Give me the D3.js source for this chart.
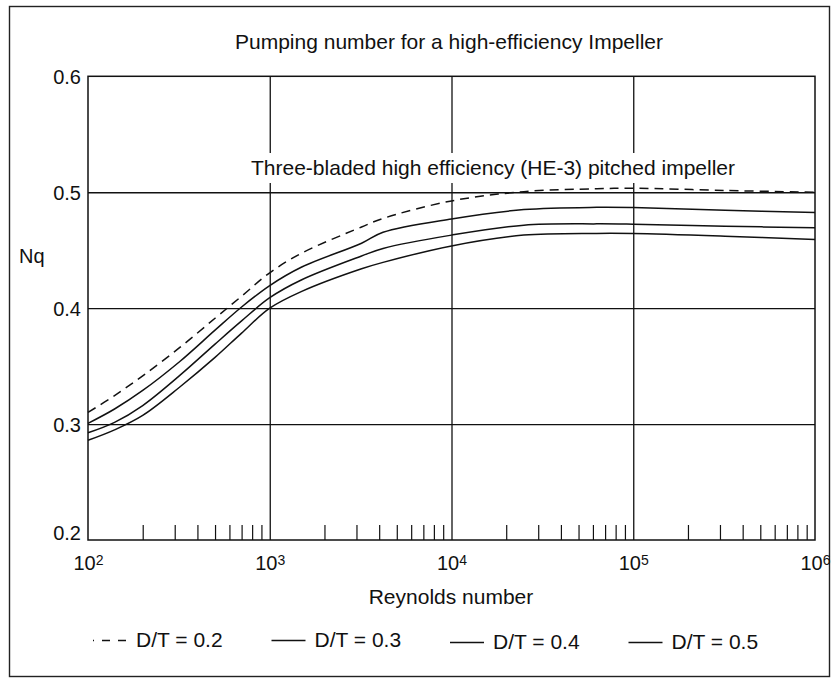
<!DOCTYPE html>
<html><head><meta charset="utf-8">
<script src="https://cdn.jsdelivr.net/npm/d3@7"></script>
<style>
body{margin:0;background:#fff}
svg{display:block}
text{font-family:"Liberation Sans",Arial,Helvetica,sans-serif;fill:#111}
</style>
</head><body>
<svg id="chart" width="838" height="678"></svg>
<script>
// ---------- data ----------
const reynolds = [100, 140, 200, 320, 500, 700, 1000, 1500, 3200, 4200, 10000, 25000, 63000, 100000, 320000, 1000000];
const nqDT02 = [0.310, 0.3246, 0.3416, 0.3661, 0.3913, 0.4103, 0.4305, 0.4475, 0.470, 0.4774, 0.4925, 0.5005, 0.503, 0.5035, 0.5015, 0.500];
const nqDT03 = [0.3006, 0.313, 0.329, 0.354, 0.381, 0.401, 0.4195, 0.4355, 0.456, 0.4655, 0.477, 0.485, 0.487, 0.4868, 0.4845, 0.4825];
const nqDT04 = [0.2925, 0.3015, 0.316, 0.342, 0.369, 0.389, 0.409, 0.4245, 0.445, 0.4515, 0.463, 0.4716, 0.4727, 0.4724, 0.4707, 0.4693];
const nqDT05 = [0.286, 0.295, 0.3075, 0.332, 0.3575, 0.3785, 0.400, 0.4145, 0.434, 0.4395, 0.4537, 0.463, 0.4645, 0.4644, 0.4621, 0.4592];
const seriesLabels = ["D/T = 0.2", "D/T = 0.3", "D/T = 0.4", "D/T = 0.5"];
const yTicks = [0.2, 0.3, 0.4, 0.5, 0.6];
const xDecades = [100, 1000, 10000, 100000, 1000000];
const xTickExponents = ["2", "3", "4", "5", "6"];
const titleText = "Pumping number for a high-efficiency Impeller";
const subtitleText = "Three-bladed high efficiency (HE-3) pitched impeller";
const xLabelText = "Reynolds number";
const yLabelText = "Nq";

// ---------- layout ----------
const svg = d3.select("#chart");
const L = 88, R = 815, T = 76.3, B = 540;
const x = d3.scaleLog().domain([100, 1e6]).range([L, R]);
const y = d3.scaleLinear().domain([0.2, 0.6]).range([B, T]);
const ink = "#111";
const fontFam = '"Liberation Sans",Arial,sans-serif';

// outer border
svg.append("rect").attr("x", 9.5).attr("y", 6.5).attr("width", 820).attr("height", 670)
  .attr("fill", "none").attr("stroke", "#222").attr("stroke-width", 1.4);

// horizontal gridlines
const hGrid = svg.append("g").attr("transform", `translate(${L},0)`)
  .call(d3.axisLeft(y).tickValues(yTicks.filter(v => v > 0.2 && v < 0.6)).tickSize(-(R - L)).tickFormat(""));
hGrid.select(".domain").remove();
hGrid.selectAll("line").attr("stroke", ink).attr("stroke-width", 1.3);

// vertical gridlines
const vGrid = svg.append("g").attr("transform", `translate(0,${B})`)
  .call(d3.axisBottom(x).tickValues(xDecades.slice(1, -1)).tickSize(-(B - T)).tickFormat(""));
vGrid.select(".domain").remove();
vGrid.selectAll("line").attr("stroke", ink).attr("stroke-width", 1.3);

// minor ticks (inside, bottom)
const minor = [];
xDecades.slice(0, -1).forEach(d => { for (let k = 2; k <= 9; k++) minor.push(d * k); });
const mAx = svg.append("g").attr("transform", `translate(0,${B})`)
  .call(d3.axisBottom(x).tickValues(minor).tickSize(-15).tickFormat(""));
mAx.select(".domain").remove();
mAx.selectAll("line").attr("stroke", ink).attr("stroke-width", 1.2);

// plot frame
svg.append("rect").attr("x", L).attr("y", T).attr("width", R - L).attr("height", B - T)
  .attr("fill", "none").attr("stroke", ink).attr("stroke-width", 1.5);

// y tick labels
const yAx = svg.append("g").attr("transform", `translate(${L},0)`)
  .call(d3.axisLeft(y).tickValues(yTicks).tickSize(0).tickPadding(7).tickFormat(d3.format(".1f")));
yAx.select(".domain").remove();
yAx.selectAll("text").attr("font-size", 20).style("font-family", fontFam).attr("fill", ink)
  .attr("dy", d => d === 0.2 ? "-0.02em" : "0.35em");

// x tick labels with superscripts
const xAx = svg.append("g").attr("transform", `translate(0,${B})`)
  .call(d3.axisBottom(x).tickValues(xDecades).tickSize(0).tickFormat(""));
xAx.select(".domain").remove();
xAx.selectAll(".tick text").remove();
xAx.selectAll(".tick").append("text")
  .attr("y", 30).attr("text-anchor", "middle").attr("fill", ink)
  .style("font-family", fontFam)
  .each(function (d, i) {
    const t = d3.select(this);
    t.append("tspan").attr("font-size", 20).text("10");
    t.append("tspan").attr("font-size", 14).attr("dy", -5).text(xTickExponents[i]);
  });

// curves
const series = [nqDT02, nqDT03, nqDT04, nqDT05];
const line = d3.line().x(d => x(d[0])).y(d => y(d[1])).curve(d3.curveCatmullRom.alpha(0.5));
series.forEach((vals, i) => {
  svg.append("path")
    .datum(reynolds.map((r, j) => [r, vals[j]]))
    .attr("d", line).attr("fill", "none").attr("stroke", ink).attr("stroke-width", 1.5)
    .attr("stroke-dasharray", i === 0 ? "9,6" : null);
});

// subtitle with white background
svg.append("rect").attr("x", 242).attr("y", 153).attr("width", 500).attr("height", 30).attr("fill", "#fff");
svg.append("text").attr("x", 251).attr("y", 175).attr("font-size", 21).text(subtitleText);

// title and axis labels
svg.append("text").attr("x", 449).attr("y", 49).attr("text-anchor", "middle").attr("font-size", 21).text(titleText);
svg.append("text").attr("x", 451).attr("y", 604).attr("text-anchor", "middle").attr("font-size", 21).text(xLabelText);
svg.append("text").attr("x", 19).attr("y", 263).attr("font-size", 20).text(yLabelText);

// legend
const lg = svg.append("g");
seriesLabels.forEach((lab, i) => {
  const x0 = 93 + i * 178.5;
  const base = i < 2 ? 647 : 649;
  lg.append("line").attr("x1", x0).attr("x2", x0 + 34)
    .attr("y1", base - 6.5).attr("y2", base - 6.5)
    .attr("stroke", ink).attr("stroke-width", 1.4)
    .attr("stroke-dasharray", i === 0 ? "8,8" : null).attr("stroke-dashoffset", i === 0 ? 7 : null);
  lg.append("text").attr("x", x0 + 43).attr("y", base).attr("font-size", 21).text(lab);
});
</script>
</body></html>
